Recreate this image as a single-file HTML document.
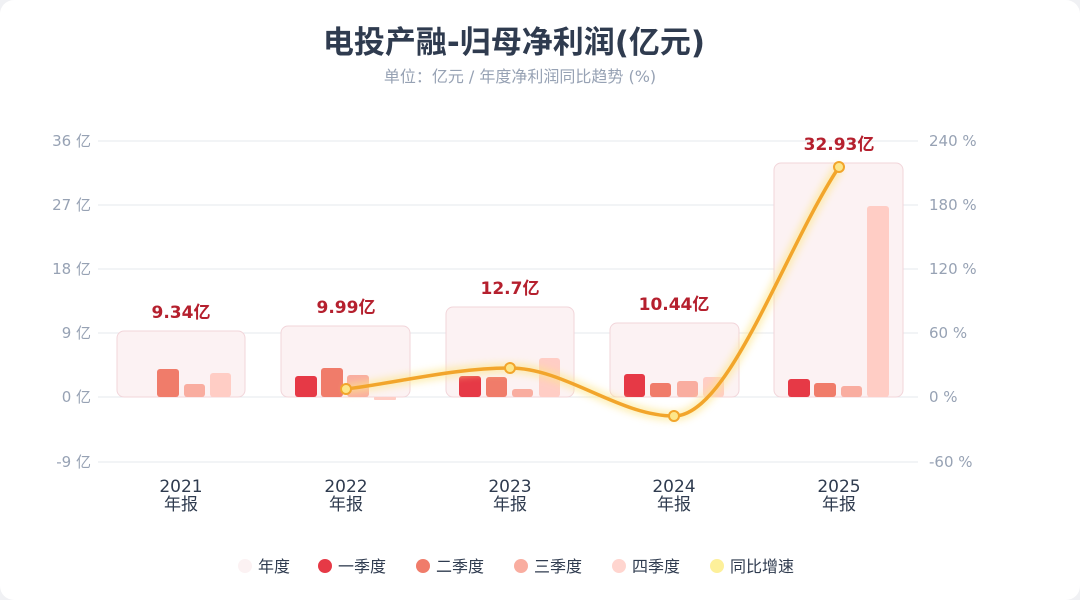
<!DOCTYPE html>
<html><head><meta charset="utf-8"><style>
html,body{margin:0;padding:0;background:#f0f1f4}
.card{width:1080px;height:600px;background:#fff;border-radius:14px;overflow:hidden}
svg{font-family:"DejaVu Sans","Noto Sans CJK SC",sans-serif}
</style></head><body><div class="card">
<svg width="1080" height="600" viewBox="0 0 1080 600">
<defs><filter id="g" x="-20%" y="-20%" width="140%" height="140%"><feGaussianBlur stdDeviation="4"/></filter></defs>
<text x="514" y="53" text-anchor="middle" font-size="31" font-weight="bold" fill="#2f3b4f">电投产融-归母净利润(亿元)</text>
<text x="520" y="82" text-anchor="middle" font-size="16" fill="#97a2b4">单位：亿元 / 年度净利润同比趋势 (%)</text>
<g stroke="#e6e8ec" stroke-width="1">
<line x1="98" x2="918" y1="141" y2="141"/><line x1="98" x2="918" y1="205" y2="205"/><line x1="98" x2="918" y1="269" y2="269"/><line x1="98" x2="918" y1="333" y2="333"/><line x1="98" x2="918" y1="397" y2="397"/><line x1="98" x2="918" y1="462" y2="462"/></g>
<g font-size="15" fill="#97a2b4" text-anchor="end">
<text x="91" y="146">36 亿</text><text x="91" y="210">27 亿</text><text x="91" y="274">18 亿</text><text x="91" y="338">9 亿</text><text x="91" y="402">0 亿</text><text x="91" y="467">-9 亿</text></g>
<g font-size="15" fill="#97a2b4">
<text x="929" y="146">240 %</text><text x="929" y="210">180 %</text><text x="929" y="274">120 %</text><text x="929" y="338">60 %</text><text x="929" y="402">0 %</text><text x="929" y="467">-60 %</text></g>
<g fill="#fcf2f3" stroke="#f2d5da" stroke-width="1">
<rect x="117" y="331" width="128" height="66" rx="7"/>
<rect x="281" y="326" width="129" height="71" rx="7"/>
<rect x="446" y="307" width="128" height="90" rx="7"/>
<rect x="610" y="323" width="129" height="74" rx="7"/>
<rect x="774" y="163" width="129" height="234" rx="7"/></g>
<g>
<rect x="157" y="369" width="22" height="28" rx="3" fill="#f07c6a"/><rect x="184" y="384" width="21" height="13" rx="3" fill="#f9ada0"/><rect x="210" y="373" width="21" height="24" rx="3" fill="#ffcdc5"/>
<rect x="295" y="376" width="22" height="21" rx="3" fill="#e63946"/><rect x="321" y="368" width="22" height="29" rx="3" fill="#f07c6a"/><rect x="347" y="375" width="22" height="22" rx="3" fill="#f9ada0"/><rect x="374" y="397" width="22" height="3" rx="1" fill="#ffcdc5"/>
<rect x="459" y="376" width="22" height="21" rx="3" fill="#e63946"/><rect x="486" y="377" width="21" height="20" rx="3" fill="#f07c6a"/><rect x="512" y="389" width="21" height="8" rx="3" fill="#f9ada0"/><rect x="539" y="358" width="21" height="39" rx="3" fill="#ffcdc5"/>
<rect x="624" y="374" width="21" height="23" rx="3" fill="#e63946"/><rect x="650" y="383" width="21" height="14" rx="3" fill="#f07c6a"/><rect x="677" y="381" width="21" height="16" rx="3" fill="#f9ada0"/><rect x="703" y="377" width="21" height="20" rx="3" fill="#ffcdc5"/>
<rect x="788" y="379" width="22" height="18" rx="3" fill="#e63946"/><rect x="814" y="383" width="22" height="14" rx="3" fill="#f07c6a"/><rect x="841" y="386" width="21" height="11" rx="3" fill="#f9ada0"/><rect x="867" y="206" width="22" height="191" rx="3" fill="#ffcdc5"/>
</g>
<g font-size="17" font-weight="bold" fill="#b5202e" text-anchor="middle">
<text x="181" y="318">9.34亿</text><text x="346" y="313">9.99亿</text><text x="510" y="294">12.7亿</text><text x="674" y="310">10.44亿</text><text x="839" y="150">32.93亿</text></g>
<path d="M346,389 C401,382 455,368 510,368 C565,368 619,416 674,416 C729,416 784,250 839,167" fill="none" stroke="#fde68a" stroke-width="9" opacity="0.7" filter="url(#g)"/>
<path d="M346,389 C401,382 455,368 510,368 C565,368 619,416 674,416 C729,416 784,250 839,167" fill="none" stroke="#f2a52b" stroke-width="3.5"/>
<g fill="#fde68a" stroke="#f2a52b" stroke-width="2">
<circle cx="346" cy="389" r="5"/><circle cx="510" cy="368" r="5"/><circle cx="674" cy="416" r="5"/><circle cx="839" cy="167" r="5"/></g>
<g font-size="17" fill="#2f3b4f" text-anchor="middle">
<text x="181" y="492">2021</text><text x="181" y="510">年报</text>
<text x="346" y="492">2022</text><text x="346" y="510">年报</text>
<text x="510" y="492">2023</text><text x="510" y="510">年报</text>
<text x="674" y="492">2024</text><text x="674" y="510">年报</text>
<text x="839" y="492">2025</text><text x="839" y="510">年报</text></g>
<g font-size="16" fill="#2f3b4f">
<circle cx="245" cy="566" r="7" fill="#fcf2f3"/><text x="258" y="572">年度</text>
<circle cx="325" cy="566" r="7" fill="#e63946"/><text x="338" y="572">一季度</text>
<circle cx="423" cy="566" r="7" fill="#f07c6a"/><text x="436" y="572">二季度</text>
<circle cx="521" cy="566" r="7" fill="#f9ada0"/><text x="534" y="572">三季度</text>
<circle cx="619" cy="566" r="7" fill="#ffd5cf"/><text x="632" y="572">四季度</text>
<circle cx="717" cy="566" r="7" fill="#fdf09a"/><text x="730" y="572">同比增速</text></g>
</svg></div></body></html>
